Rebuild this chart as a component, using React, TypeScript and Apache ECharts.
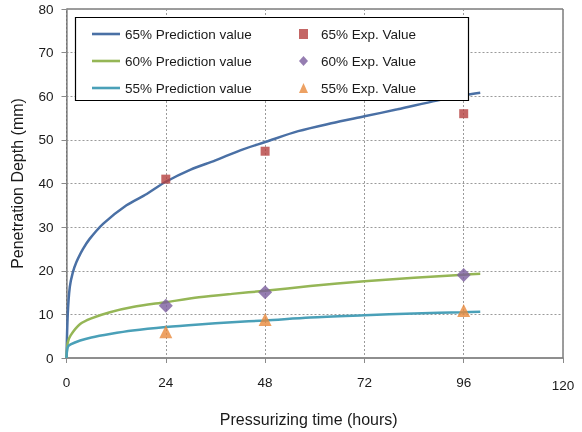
import React, { useEffect, useRef } from "react";
import * as echarts from "echarts";

// Prediction curves (time in hours, depth in mm)
const t65 = [0, 0.3, 0.8, 1.5, 2.4, 4, 5.6, 8.9, 14.5, 19.4, 24, 30, 36, 42, 48, 56, 64, 72, 80, 89.5, 96, 100];
const v65 = [0, 10, 16.3, 19.5, 22, 25, 27.3, 30.8, 35, 37.6, 40.4, 43.2, 45.3, 47.6, 49.5, 52, 53.8, 55.4, 57, 59, 60.2, 60.8];
const t60 = [0, 0.3, 1, 3.3, 6, 10.5, 16, 24, 32, 40, 48, 58.9, 72, 84, 96, 100];
const v60 = [0, 3.5, 5.2, 7.8, 9.1, 10.5, 11.7, 12.8, 13.9, 14.7, 15.4, 16.5, 17.6, 18.4, 19.1, 19.3];
const t55 = [0, 0.3, 1, 3.3, 6, 10.5, 16, 24, 32, 40, 48, 58.9, 72, 84, 96, 100];
const v55 = [0, 2.5, 3.1, 4.0, 4.7, 5.5, 6.3, 7.1, 7.7, 8.2, 8.6, 9.3, 9.8, 10.2, 10.5, 10.6];

// Experimental values
const expTimes = [24, 48, 96];
const exp65 = [41, 47.4, 56];
const exp60 = [12, 15.1, 19];
const exp55 = [6, 8.8, 10.9];

const xTicks = [0, 24, 48, 72, 96, 120];
const yTicks = [0, 10, 20, 30, 40, 50, 60, 70, 80];

const names = {
  p65: "65% Prediction value",
  p60: "60% Prediction value",
  p55: "55% Prediction value",
  e65: "65% Exp. Value",
  e60: "60% Exp. Value",
  e55: "55% Exp. Value",
};

const zip = (a: number[], b: number[]) => a.map((x, i) => [x, b[i]]);

const FONT = "'Liberation Sans', Arial, sans-serif";
const LINE_ICON = "path://M0,0 M28,14 M0,5.7 L28,5.7 L28,8.3 L0,8.3 Z";

export default function App() {
  const ref = useRef<HTMLDivElement>(null);
  useEffect(() => {
    if (!ref.current) return;
    const chart = echarts.init(ref.current, null, { renderer: "svg" });
    const lineSeries = (name: string, t: number[], v: number[], color: string) => ({
      name,
      type: "line",
      data: zip(t, v),
      symbol: "none",
      showSymbol: false,
      smooth: 0.3,
      lineStyle: { color, width: 2.5 },
      itemStyle: { color },
      z: 2,
    });
    const scatterSeries = (name: string, v: number[], color: string, symbol: string, size: number) => ({
      name,
      type: "scatter",
      data: zip(expTimes, v),
      symbol,
      symbolSize: size,
      itemStyle: { color },
      z: 3,
    });
    chart.setOption({
      animation: false,
      textStyle: { fontFamily: FONT },
      grid: {
        left: 66.5,
        right: 19,
        top: 9,
        bottom: 72.5,
        show: true,
        borderColor: "#3a3a3a",
        borderWidth: 1,
      },
      xAxis: {
        type: "value",
        min: 0,
        max: 120,
        interval: 24,
        name: "Pressurizing time (hours)",
        nameLocation: "middle",
        nameGap: 53,
        nameTextStyle: { fontSize: 16, color: "#1a1a1a", fontFamily: FONT, padding: [0, 12, 0, 0] },
        axisLine: { lineStyle: { color: "#8a8a8a", width: 1.5 } },
        axisTick: { show: true, length: 5, inside: false, lineStyle: { color: "#8a8a8a" } },
        axisLabel: {
          margin: 17,
          fontSize: 13.5,
          color: "#1a1a1a",
          fontFamily: FONT,
          formatter: (v: number) => (xTicks.includes(v) ? (v === 120 ? "{b|120}" : String(v)) : ""),
          rich: { b: { fontSize: 13.5, color: "#1a1a1a", fontFamily: FONT, padding: [3, 0, 0, 0] } },
        },
        splitLine: { show: true, lineStyle: { color: "#9a9a9a", type: [2, 2], width: 1 } },
      },
      yAxis: {
        type: "value",
        min: 0,
        max: 80,
        interval: 10,
        name: "Penetration Depth (mm)",
        nameLocation: "middle",
        nameGap: 41,
        nameTextStyle: { fontSize: 16, color: "#1a1a1a", fontFamily: FONT },
        axisLine: { show: true, lineStyle: { color: "#8a8a8a", width: 1.5 } },
        axisTick: { show: true, length: 5, lineStyle: { color: "#8a8a8a" } },
        axisLabel: {
          margin: 13,
          fontSize: 13.5,
          color: "#1a1a1a",
          fontFamily: FONT,
          formatter: (v: number) => (yTicks.includes(v) ? String(v) : ""),
        },
        splitLine: { show: true, lineStyle: { color: "#9a9a9a", type: [2, 2], width: 1 } },
      },
      graphic: [
        {
          type: "rect",
          shape: { x: 75.5, y: 17.5, width: 393, height: 83 },
          style: { fill: "#ffffff", stroke: "#000000", lineWidth: 1.2 },
          z: 10,
        },
      ],
      legend: [
        {
          data: [
            { name: names.p65, icon: LINE_ICON },
            { name: names.p60, icon: LINE_ICON },
            { name: names.p55, icon: LINE_ICON },
          ],
          orient: "vertical",
          left: 92,
          top: 27,
          itemWidth: 28,
          itemHeight: 14,
          itemGap: 13,
          padding: 0,
          z: 20,
          textStyle: { fontSize: 13.5, color: "#1a1a1a", fontFamily: FONT },
        },
        {
          data: [
            { name: names.e65, icon: "rect" },
            { name: names.e60, icon: "diamond" },
            { name: names.e55, icon: "triangle" },
          ],
          orient: "vertical",
          left: 299,
          top: 27,
          itemWidth: 9,
          itemHeight: 10,
          itemGap: 13,
          padding: 0,
          z: 20,
          textStyle: { fontSize: 13.5, color: "#1a1a1a", fontFamily: FONT, padding: [0, 0, 0, 8] },
        },
      ],
      series: [
        lineSeries(names.p65, t65, v65, "#4A70A5"),
        lineSeries(names.p60, t60, v60, "#95B656"),
        lineSeries(names.p55, t55, v55, "#4AA0B8"),
        scatterSeries(names.e65, exp65, "#B5403E", "rect", 9),
        scatterSeries(names.e60, exp60, "#7B5C9E", "diamond", 14),
        scatterSeries(names.e55, exp55, "#E8893C", "triangle", 13),
      ],
    });
    return () => chart.dispose();
  }, []);
  return <div ref={ref} style={{ position: "fixed", left: 0, top: 0, width: 582, height: 432 }} />;
}
